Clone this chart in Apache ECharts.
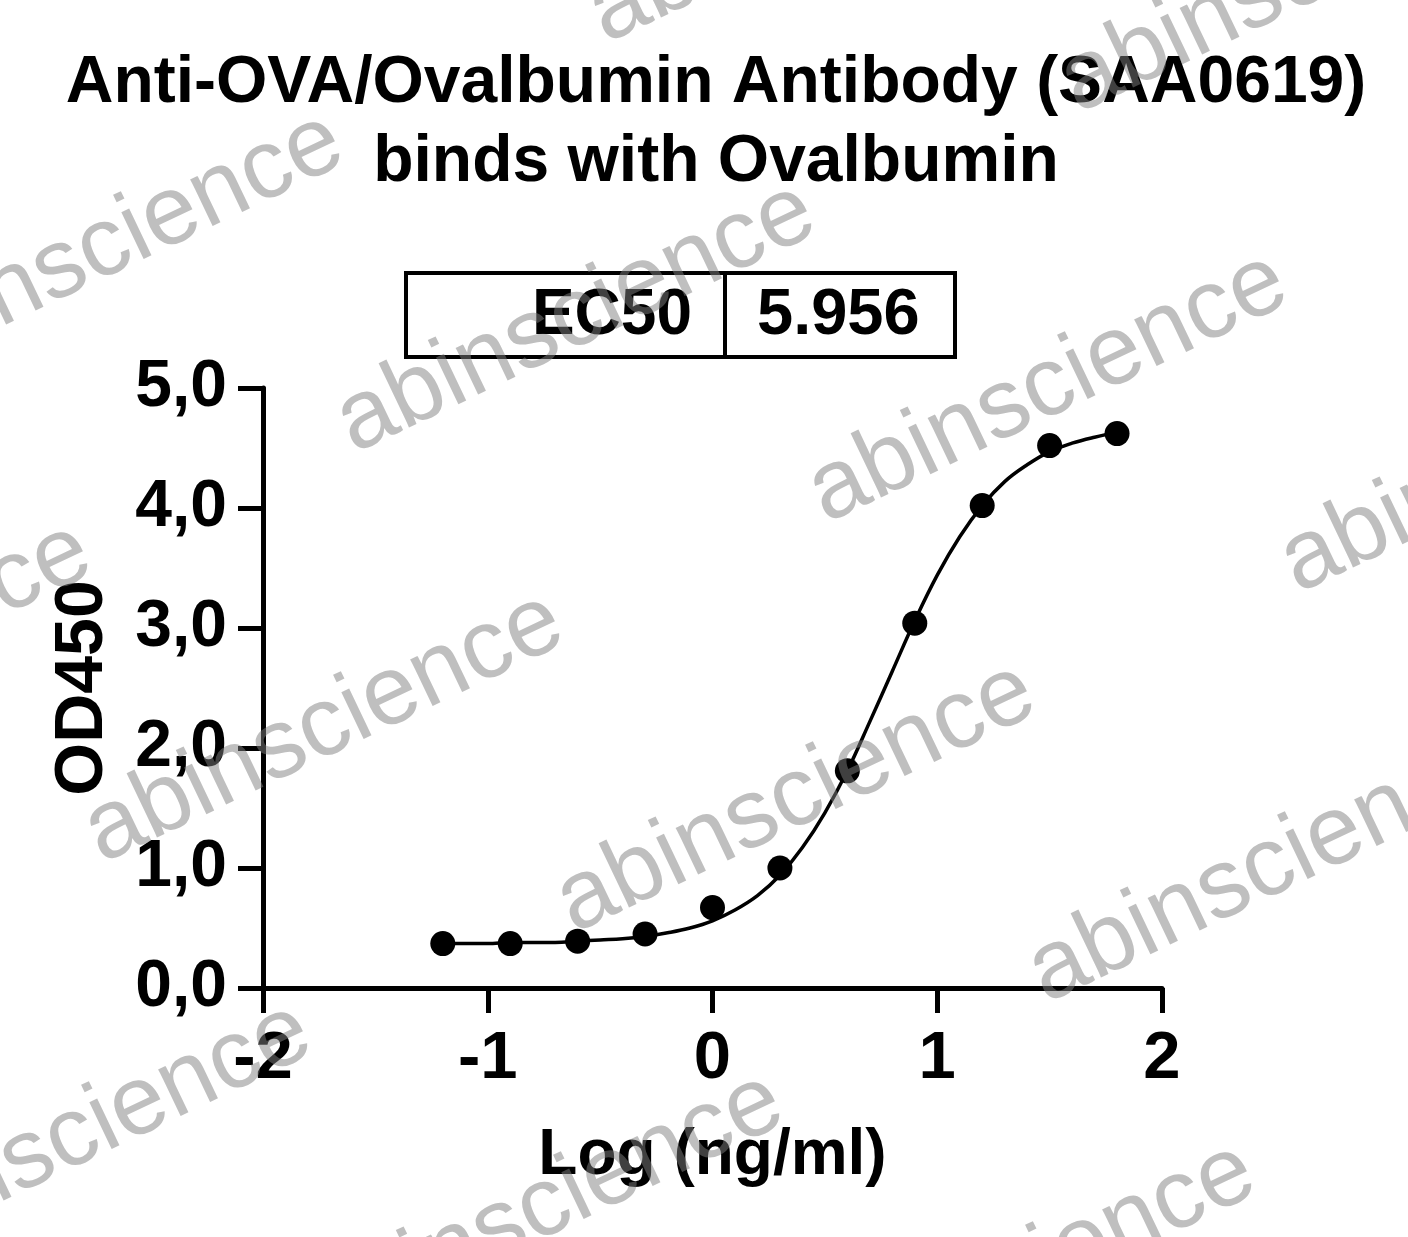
<!DOCTYPE html>
<html>
<head>
<meta charset="utf-8">
<style>
html,body{margin:0;padding:0;background:#fff;}
#chart{width:1408px;height:1237px;}
</style>
<script src="https://cdn.jsdelivr.net/npm/echarts@6/dist/echarts.min.js"></script>
</head>
<body>
<div id="chart"></div>
<script>
// ---- data ----
var titleText = 'Anti-OVA/Ovalbumin Antibody (SAA0619)\nbinds with Ovalbumin';
var xAxisName = 'Log (ng/ml)';
var yAxisName = 'OD450';
var ec50Label = 'EC50';
var ec50Value = '5.956';
var watermarkText = 'abinscience';

// measured points (log concentration, OD450)
var pointX = [-1.2, -0.9, -0.6, -0.3, 0.0, 0.3, 0.6, 0.9, 1.2, 1.5, 1.8];
var pointY = [0.37, 0.37, 0.39, 0.45, 0.67, 1.00, 1.81, 3.04, 4.02, 4.52, 4.62];

// fitted curve
var curveX = [-1.2, -1.1, -1.0, -0.9, -0.8, -0.7, -0.6, -0.5, -0.4, -0.3, -0.2, -0.1, 0.0, 0.1, 0.2, 0.3,
              0.4, 0.5, 0.6, 0.7, 0.8, 0.9, 1.0, 1.1, 1.2, 1.3, 1.4, 1.5, 1.6, 1.7, 1.8];
var curveY = [0.37, 0.37, 0.37, 0.38, 0.38, 0.38, 0.39, 0.40, 0.41, 0.43, 0.46, 0.50, 0.56, 0.65, 0.77, 0.94,
              1.17, 1.46, 1.81, 2.22, 2.64, 3.06, 3.44, 3.76, 4.02, 4.22, 4.36, 4.47, 4.54, 4.59, 4.63];

var xTicks = [-2, -1, 0, 1, 2];
var yTicks = [0, 1, 2, 3, 4, 5];

var FONT = '"Liberation Sans", Arial, Helvetica, sans-serif';

// ---- build ----
var chart = echarts.init(document.getElementById('chart'), null, {renderer: 'canvas'});

function pairs(xs, ys) { return xs.map(function (x, i) { return [x, ys[i]]; }); }

// watermark lattice (decoration)
var wm = [];
var base = [1048, 388], u = [472, 70], v = [-252, 410];
for (var i = -3; i <= 3; i++) {
  for (var j = -3; j <= 3; j++) {
    var cx = base[0] + i * u[0] + j * v[0];
    var cy = base[1] + i * u[1] + j * v[1];
    if (cx < -300 || cx > 1700 || cy < -200 || cy > 1450) continue;
    wm.push({
      type: 'text', x: cx, y: cy, rotation: 25.5 * Math.PI / 180, z: 100, silent: true,
      style: {text: watermarkText, fontSize: 98, fontFamily: FONT, fontWeight: 'normal',
              fill: 'rgba(128,128,128,0.5)', align: 'center', verticalAlign: 'middle'}
    });
  }
}

var option = {
  backgroundColor: '#ffffff',
  animation: false,
  title: {
    text: titleText,
    left: 716, top: 44, padding: 0,
    textAlign: 'center',
    textStyle: {fontFamily: FONT, fontSize: 66, fontWeight: 'bold', color: '#000', lineHeight: 79}
  },
  grid: {left: 263, right: 246, top: 388, bottom: 249, containLabel: false},
  xAxis: {
    type: 'value', min: -2, max: 2, interval: 1,
    name: xAxisName, nameLocation: 'middle', nameGap: 136,
    nameTextStyle: {fontFamily: FONT, fontSize: 64, fontWeight: 'bold', color: '#000'},
    axisLine: {show: true, onZero: false, lineStyle: {color: '#000', width: 5}},
    axisTick: {show: true, length: 25, lineStyle: {color: '#000', width: 5}},
    axisLabel: {margin: 38, fontFamily: FONT, fontSize: 67, fontWeight: 'bold', color: '#000',
                formatter: function (val) { return String(val); }},
    splitLine: {show: false}
  },
  yAxis: {
    type: 'value', min: 0, max: 5, interval: 1,
    name: yAxisName, nameLocation: 'middle', nameGap: 146, nameRotate: 90,
    nameTextStyle: {fontFamily: FONT, fontSize: 68, fontWeight: 'bold', color: '#000'},
    axisLine: {show: true, onZero: false, lineStyle: {color: '#000', width: 5}},
    axisTick: {show: true, length: 25, lineStyle: {color: '#000', width: 5}},
    axisLabel: {margin: 36, fontFamily: FONT, fontSize: 66, fontWeight: 'bold', color: '#000',
                formatter: function (val) { return val.toFixed(1).replace('.', ','); }},
    splitLine: {show: false}
  },
  series: [
    {
      type: 'line', name: 'fit', data: pairs(curveX, curveY),
      smooth: 0.4, showSymbol: false, symbol: 'none',
      lineStyle: {color: '#000', width: 3.5}, z: 2
    },
    {
      type: 'scatter', name: 'data', data: pairs(pointX, pointY),
      symbol: 'circle', symbolSize: 25,
      itemStyle: {color: '#000', opacity: 1}, z: 3
    }
  ],
  graphic: [
    {
      type: 'group', z: 50,
      children: [
        {type: 'rect', shape: {x: 406, y: 273, width: 549, height: 84},
         style: {fill: '#fff', stroke: '#000', lineWidth: 4}},
        {type: 'line', shape: {x1: 725, y1: 273, x2: 725, y2: 357},
         style: {stroke: '#000', lineWidth: 4}},
        {type: 'text', x: 692, y: 316,
         style: {text: ec50Label, fontFamily: FONT, fontSize: 64, fontWeight: 'bold', fill: '#000',
                 align: 'right', verticalAlign: 'middle'}},
        {type: 'text', x: 757, y: 316,
         style: {text: ec50Value, fontFamily: FONT, fontSize: 65, fontWeight: 'bold', fill: '#000',
                 align: 'left', verticalAlign: 'middle'}}
      ]
    }
  ].concat(wm)
};

chart.setOption(option);
</script>
</body>
</html>
